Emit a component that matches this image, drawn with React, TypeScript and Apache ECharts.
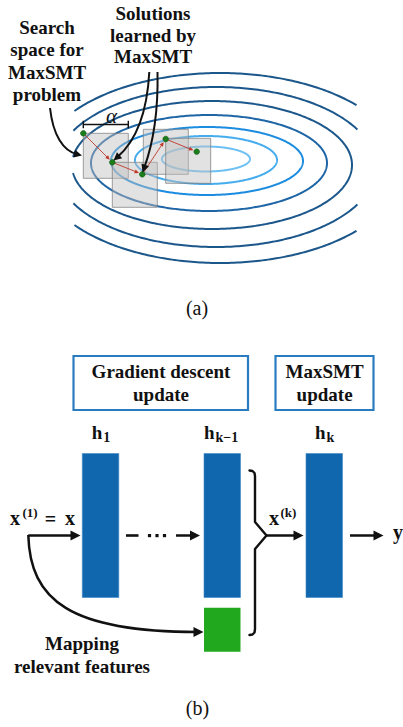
import React, { useEffect, useRef } from 'react';
import * as echarts from 'echarts';

const W = 403;
const H = 727;
const FONT_FAMILY = 'Liberation Serif';
const INK = '#111111';

// ---------- (a) contour plot ----------
const ellipseCx = [206, 206, 207, 209, 212, 216, 220];
const ellipseCy = [159, 160, 161, 163, 165, 167, 168];
const ellipseRx = [44, 71, 96, 118, 140, 160, 182];
const ellipseRy = [12.5, 24, 34, 48, 64, 80, 95];
const ellipseColors = ['#6cc0f4', '#45acee', '#1c8ce0', '#1f66a6', '#1b578b', '#1b578b', '#1b578b'];
const contourClipX = [73, 358];

const solutionX = [83.3, 112.3, 142.3, 165.7, 196.7];
const solutionY = [133.3, 162.3, 174.3, 139, 151.7];
const squareX = [83.3, 112.3, 143.3, 165.7];
const squareY = [133.3, 162.3, 129.3, 138.3];
const squareSize = 45;

const searchLines = ['Search', 'space for', 'MaxSMT', 'problem'];
const searchLineY = [27.5, 49.8, 72.1, 94.4];
const solutionLines = ['Solutions', 'learned by', 'MaxSMT'];
const solutionLineY = [13.7, 35.2, 56.7];

// ---------- (b) network ----------
const boxLabelsGD = ['Gradient descent', 'update'];
const boxLabelsMax = ['MaxSMT', 'update'];
const layerX = [82.3, 204, 306];
const layerSub = ['1', 'k\u22121', 'k'];
const layerHX = [91.7, 204, 315];
const mappingLines = ['Mapping', 'relevant features'];

let measureCtx: CanvasRenderingContext2D | null = null;
function textWidth(text: string, size: number, weight: string, italic: boolean) {
  if (!measureCtx) measureCtx = document.createElement('canvas').getContext('2d');
  if (!measureCtx) return text.length * size * 0.5;
  measureCtx.font = `${italic ? 'italic ' : ''}${weight} ${size}px ${FONT_FAMILY}`;
  return measureCtx.measureText(text).width;
}

function ellipseRuns(cx: number, cy: number, rx: number, ry: number, xmin: number, xmax: number) {
  const N = 400;
  const runs: number[][][] = [];
  let cur: number[][] = [];
  let startedInside = false;
  for (let i = 0; i <= N; i++) {
    const t = (2 * Math.PI * i) / N;
    const x = cx + rx * Math.cos(t);
    const y = cy + ry * Math.sin(t);
    const inside = x >= xmin && x <= xmax;
    if (i === 0) startedInside = inside;
    if (inside) cur.push([x, y]);
    else {
      if (cur.length > 1) runs.push(cur);
      cur = [];
    }
  }
  if (cur.length > 1) {
    if (startedInside && runs.length > 0 && cur.length < N) {
      runs[0] = cur.concat(runs[0]);
    } else runs.push(cur);
  }
  return runs;
}

function head(tx: number, ty: number, fx: number, fy: number, len: number, hw: number) {
  const dx = tx - fx;
  const dy = ty - fy;
  const d = Math.hypot(dx, dy) || 1;
  const ux = dx / d;
  const uy = dy / d;
  const bx = tx - ux * len;
  const by = ty - uy * len;
  return {
    points: [
      [tx, ty],
      [bx - uy * hw, by + ux * hw],
      [bx + uy * hw, by - ux * hw],
    ],
    base: [tx - ux * len * 0.6, ty - uy * len * 0.6],
  };
}

function curvedArrow(p0: number[], c1: number[], c2: number[], tip: number[], len: number, hw: number, lw: number) {
  const h = head(tip[0], tip[1], c2[0], c2[1], len, hw);
  return [
    {
      type: 'bezierCurve',
      shape: { x1: p0[0], y1: p0[1], cpx1: c1[0], cpy1: c1[1], cpx2: c2[0], cpy2: c2[1], x2: h.base[0], y2: h.base[1] },
      style: { stroke: INK, lineWidth: lw, fill: 'none' },
    },
    { type: 'polygon', shape: { points: h.points }, style: { fill: INK } },
  ];
}

function straightArrow(x1: number, y1: number, tx: number, ty: number, len: number, hw: number, lw: number, color = INK) {
  const h = head(tx, ty, x1, y1, len, hw);
  return [
    { type: 'line', shape: { x1, y1, x2: h.base[0], y2: h.base[1] }, style: { stroke: color, lineWidth: lw } },
    { type: 'polygon', shape: { points: h.points }, style: { fill: color } },
  ];
}

// x, y: horizontal anchor (centre or left) and vertical centre of the text
function txt(text: string, x: number, y: number, size: number, opts: any = {}) {
  const weight = opts.weight || 'bold';
  const italic = !!opts.italic;
  const left = opts.align === 'left' ? x : x - textWidth(text, size, weight, italic) / 2;
  const style: any = { text, fontSize: size, fontWeight: weight, fontFamily: FONT_FAMILY, fill: INK };
  if (italic) style.fontStyle = 'italic';
  return { type: 'text', x: left, y: y - size / 2, style };
}

function buildGraphics() {
  const g: any[] = [];
  // contours
  ellipseCx.forEach((cx, i) => {
    ellipseRuns(cx, ellipseCy[i], ellipseRx[i], ellipseRy[i], contourClipX[0], contourClipX[1]).forEach((pts) => {
      g.push({
        type: 'polyline',
        shape: { points: pts },
        style: { stroke: ellipseColors[i], lineWidth: 2, fill: 'none', lineJoin: 'round' },
      });
    });
  });
  // search squares
  squareX.forEach((x, i) => {
    g.push({
      type: 'rect',
      shape: { x, y: squareY[i], width: squareSize, height: squareSize },
      style: { fill: 'rgba(190,190,190,0.45)', stroke: 'rgba(125,125,125,0.75)', lineWidth: 1 },
    });
  });
  // red steps
  for (let i = 0; i < solutionX.length - 1; i++) {
    const x0 = solutionX[i];
    const y0 = solutionY[i];
    const x1 = solutionX[i + 1];
    const y1 = solutionY[i + 1];
    const d = Math.hypot(x1 - x0, y1 - y0);
    const tx = x1 - ((x1 - x0) / d) * 3.5;
    const ty = y1 - ((y1 - y0) / d) * 3.5;
    g.push(...straightArrow(x0, y0, tx, ty, 4.5, 2, 0.9, '#c0392b'));
  }
  // green dots
  solutionX.forEach((x, i) => {
    g.push({
      type: 'circle',
      shape: { cx: x, cy: solutionY[i], r: 2.8 },
      style: { fill: '#1c7d1c', stroke: '#0e5a0e', lineWidth: 0.6 },
    });
  });
  // alpha bracket
  g.push({ type: 'line', shape: { x1: 83.3, y1: 124.5, x2: 128.3, y2: 124.5 }, style: { stroke: INK, lineWidth: 1.6 } });
  g.push({ type: 'line', shape: { x1: 83.3, y1: 120.8, x2: 83.3, y2: 128.3 }, style: { stroke: INK, lineWidth: 1.4 } });
  g.push({ type: 'line', shape: { x1: 128.3, y1: 120.8, x2: 128.3, y2: 128.3 }, style: { stroke: INK, lineWidth: 1.4 } });
  g.push(txt('\u03b1', 111.5, 116, 21, { weight: 'normal', italic: true }));

  // black annotation arrows
  g.push(...curvedArrow([50, 108], [53, 135], [63, 151], [82, 155.5], 8, 4, 2));
  g.push(...curvedArrow([149.3, 72], [147, 115], [135, 142], [113.5, 160.5], 8, 4, 2));
  g.push(...curvedArrow([157.5, 72], [158.5, 120], [150, 152], [142.5, 172.5], 8, 4, 2));

  searchLines.forEach((t, i) => g.push(txt(t, 47, searchLineY[i], 19)));
  solutionLines.forEach((t, i) => g.push(txt(t, 153, solutionLineY[i], 19)));
  g.push(txt('(a)', 197, 307.5, 20, { weight: 'normal' }));

  // ---------- (b) ----------
  g.push({
    type: 'rect',
    shape: { x: 73.5, y: 356, width: 174.5, height: 54 },
    style: { fill: '#fff', stroke: '#2a7cc1', lineWidth: 2.2 },
  });
  g.push({
    type: 'rect',
    shape: { x: 275.5, y: 356, width: 98, height: 54 },
    style: { fill: '#fff', stroke: '#2a7cc1', lineWidth: 2.2 },
  });
  boxLabelsGD.forEach((t, i) => g.push(txt(t, 161, 371.7 + i * 22.5, 19)));
  boxLabelsMax.forEach((t, i) => g.push(txt(t, 324.6, 371.7 + i * 22.5, 19)));

  // layer labels
  layerHX.forEach((x, i) => {
    g.push(txt('h', x, 432, 19, { align: 'left' }));
    g.push(txt(layerSub[i], x + 11.5, 437, 14, { align: 'left' }));
  });

  // bars
  layerX.forEach((x) => {
    g.push({
      type: 'rect',
      shape: { x, y: 453.5, width: 36.5, height: 144 },
      style: { fill: '#1167ae', stroke: '#3f88c8', lineWidth: 0.6 },
    });
  });
  g.push({
    type: 'rect',
    shape: { x: 204, y: 607.7, width: 36.5, height: 44 },
    style: { fill: '#21a81e' },
  });

  // input label x^(1) = x
  g.push(txt('x', 10, 517.7, 20, { align: 'left' }));
  g.push(txt('(1)', 22.5, 512.5, 13, { align: 'left' }));
  g.push(txt('=', 50.5, 518.5, 20));
  g.push(txt('x', 65, 517.7, 20, { align: 'left' }));

  // input arrow
  g.push(...straightArrow(28.3, 535.5, 80.5, 535.5, 10, 5, 2.5));
  g.push(...curvedArrow([28.3, 535], [30, 600], [70, 632], [203.5, 632], 10, 5, 2.5));

  // dashed arrow
  g.push({ type: 'line', shape: { x1: 126, y1: 535.5, x2: 138.5, y2: 535.5 }, style: { stroke: INK, lineWidth: 2.6 } });
  [149.5, 157, 164.5].forEach((cx) => {
    g.push({ type: 'rect', shape: { x: cx - 1.6, y: 534, width: 3.2, height: 3.2 }, style: { fill: INK } });
  });
  g.push(...straightArrow(176, 535.5, 200, 535.5, 10, 5, 2.5));

  // brace
  g.push({
    type: 'polyline',
    shape: {
      points: [
        [249.5, 470.5],
        [252.5, 471],
        [254.5, 473],
        [255, 476],
        [255, 522],
        [266.5, 535.5],
        [255, 549],
        [255, 629],
        [254.5, 632.5],
        [252.5, 634.5],
        [249.5, 635],
      ],
    },
    style: { stroke: INK, lineWidth: 2.4, fill: 'none', lineJoin: 'round', lineCap: 'round' },
  });
  g.push(...straightArrow(266.5, 535.5, 303.5, 535.5, 10, 5, 2.5));
  g.push(txt('x', 269, 517.7, 20, { align: 'left' }));
  g.push(txt('(k)', 280.5, 512.5, 13, { align: 'left' }));

  // output
  g.push(...straightArrow(350, 535.5, 383.5, 535.5, 10, 5, 2.5));
  g.push(txt('y', 393, 532.4, 20, { align: 'left' }));

  mappingLines.forEach((t, i) => g.push(txt(t, 82, 643.3 + i * 23.4, 19)));
  g.push(txt('(b)', 197.5, 707.5, 20, { weight: 'normal' }));
  return g;
}

export default function App() {
  const ref = useRef<HTMLDivElement>(null);
  useEffect(() => {
    document.body.style.margin = '0';
    if (!ref.current) return;
    const chart = echarts.init(ref.current, null, { renderer: 'svg' });
    chart.setOption({
      animation: false,
      graphic: { elements: buildGraphics() },
    });
    return () => chart.dispose();
  }, []);
  return <div ref={ref} style={{ width: W, height: H, background: '#fff' }} />;
}
